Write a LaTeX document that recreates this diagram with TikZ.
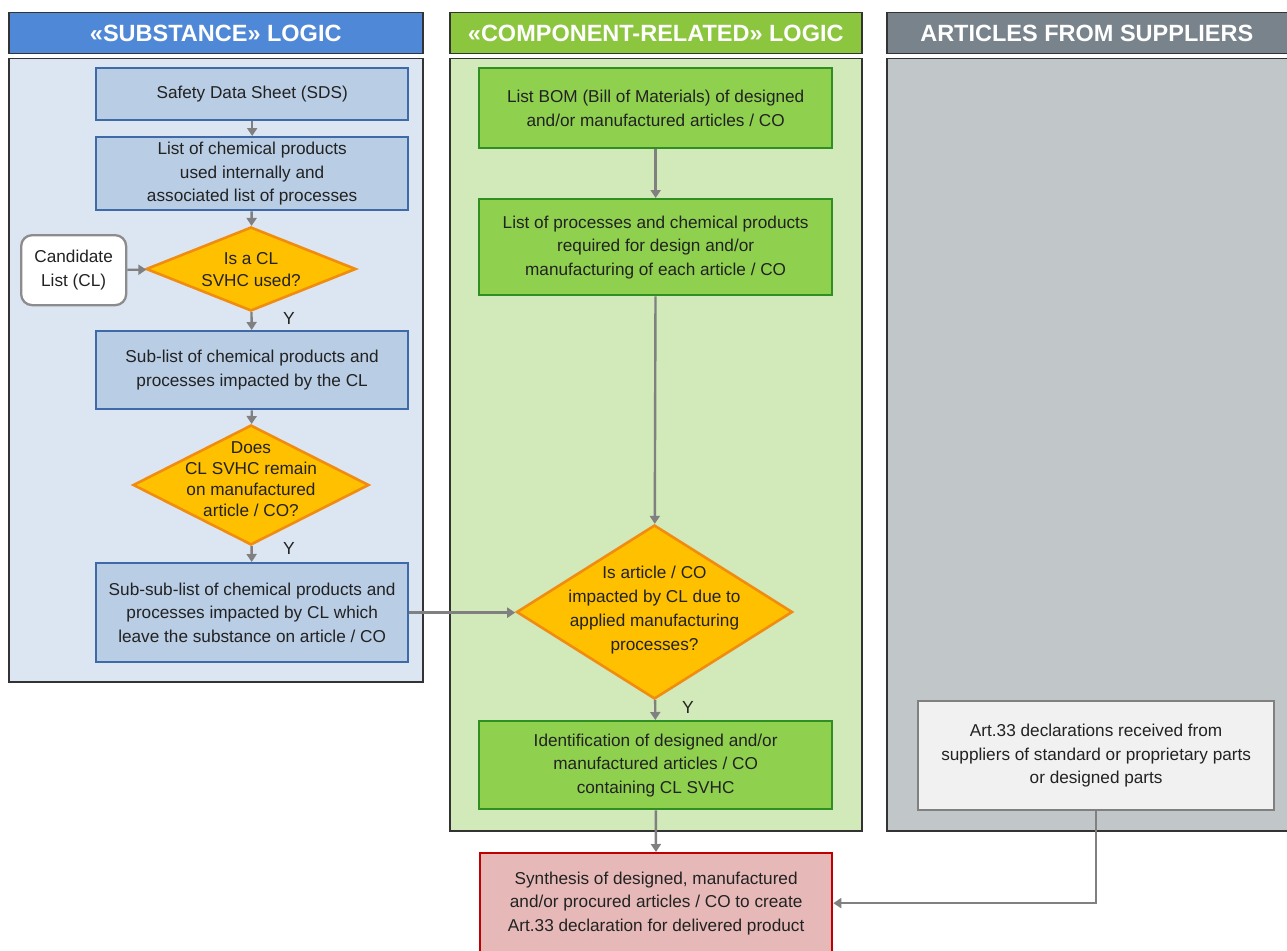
\documentclass[tikz,border=0pt]{standalone}
\usepackage{fontspec}
\setmainfont{Liberation Sans}
\usetikzlibrary{arrows.meta,shapes.geometric}
\definecolor{hblue}{HTML}{4F88D6}
\definecolor{pblue}{HTML}{DCE6F2}
\definecolor{bblue}{HTML}{B9CDE5}
\definecolor{dblue}{HTML}{3E6AA8}
\definecolor{hgreen}{HTML}{8CC63F}
\definecolor{pgreen}{HTML}{D2E9BA}
\definecolor{bgreen}{HTML}{8FD14F}
\definecolor{dgreen}{HTML}{2F8F23}
\definecolor{hgray}{HTML}{78838B}
\definecolor{pgray}{HTML}{C1C6C8}
\definecolor{dorange}{HTML}{F08C10}
\definecolor{forange}{HTML}{FFC000}
\definecolor{fred}{HTML}{E6B9B8}
\definecolor{dred}{HTML}{C00000}
\definecolor{lgray}{HTML}{F1F1F1}
\definecolor{arrgray}{HTML}{808080}
\definecolor{txt}{HTML}{222222}
\begin{document}
\begin{tikzpicture}[x=1pt,y=-1pt,
  hdr/.style={draw=black!80, line width=1.5pt, anchor=north west, inner sep=0pt,
    text=white, font=\fontsize{23.5}{26}\selectfont\bfseries},
  panel/.style={draw=black!80, line width=1.5pt, anchor=north west, inner sep=0pt},
  txtstyle/.style={text=txt, align=center, font=\fontsize{17.2}{23.5}\selectfont},
  bbox/.style={txtstyle, draw=dblue, fill=bblue, line width=2.3pt, anchor=north west, inner sep=0pt},
  gbox/.style={txtstyle, draw=dgreen, fill=bgreen, line width=2.3pt, anchor=north west, inner sep=0pt},
  dia/.style={diamond, draw=dorange, fill=forange, line width=2.6pt, inner sep=0pt},
  diatext/.style={txtstyle, inner sep=0pt},
  arr/.style={draw=arrgray, line width=2.4pt, -{Triangle[length=8pt,width=10pt]}},
  ylab/.style={text=txt, font=\fontsize{17.5}{20}\selectfont, inner sep=0pt}]
\useasboundingbox (0,0) rectangle (1287,950);

% headers
\node[hdr, fill=hblue, minimum width=414, minimum height=41] (h1) at (8,12) {«SUBSTANCE» LOGIC};
\node[hdr, fill=hgreen, minimum width=412, minimum height=41] (h2) at (449,12) {«COMPONENT-RELATED» LOGIC};
\node[hdr, fill=hgray, minimum width=410, minimum height=41] (h3) at (886,12) {\hspace*{-10pt}ARTICLES FROM SUPPLIERS};

% panels
\node[panel, fill=pblue, minimum width=414, minimum height=623] (p1) at (8,58) {};
\node[panel, fill=pgreen, minimum width=412, minimum height=772] (p2) at (449,58) {};
\node[panel, fill=pgray, minimum width=410, minimum height=772] (p3) at (886,58) {};

% substance column
\node[bbox, minimum width=312, minimum height=52] (sds) at (95,67) {Safety Data Sheet (SDS)};
\node[bbox, minimum width=312, minimum height=73] (chem) at (95,136) {List of chemical products\\used internally and\\associated list of processes};
\node[dia, minimum width=210, minimum height=84] (d1) at (251,269) {};
\node[diatext, font=\fontsize{17.2}{22}\selectfont] (d1t) at (251,270) {Is a CL\\SVHC used?};
\node[txtstyle, draw=black!45, fill=white, line width=2.3pt, rounded corners=11pt,
  minimum width=105, minimum height=70, inner sep=0pt, anchor=north west] (cand) at (20,234) {Candidate\\List (CL)};
\node[bbox, minimum width=312, minimum height=78] (sub) at (95,330) {Sub-list of chemical products and\\processes impacted by the CL};
\node[dia, minimum width=236, minimum height=120] (d2) at (251,485) {};
\node[diatext, font=\fontsize{17.2}{21}\selectfont] (d2t) at (251,479) {Does\\CL SVHC remain\\on manufactured\\article / CO?};
\node[bbox, minimum width=312, minimum height=99] (subsub) at (95,562) {Sub-sub-list of chemical products and\\processes impacted by CL which\\leave the substance on article / CO};

% component column
\node[gbox, minimum width=353, minimum height=80] (bom) at (478,67) {List BOM (Bill of Materials) of designed\\and/or manufactured articles / CO};
\node[gbox, minimum width=353, minimum height=96] (proc) at (478,198) {List of processes and chemical products\\required for design and/or\\manufacturing of each article / CO};
\node[dia, minimum width=276, minimum height=174] (d3) at (654.5,612) {};
\node[diatext, font=\fontsize{17.2}{24}\selectfont] (d3t) at (654.5,610) {Is article / CO\\impacted by CL due to\\applied manufacturing\\processes?};
\node[gbox, minimum width=353, minimum height=88] (ident) at (478,720) {Identification of designed and/or\\manufactured articles / CO\\containing CL SVHC};

% synthesis
\node[txtstyle, draw=dred, fill=fred, line width=2.3pt, anchor=north west, inner sep=0pt,
  minimum width=352, minimum height=100] (synth) at (479,852) {Synthesis of designed, manufactured\\and/or procured articles / CO to create\\Art.33 declaration for delivered product};

% suppliers
\node[txtstyle, draw=black!50, fill=lgray, line width=2.3pt, anchor=north west, inner sep=0pt,
  minimum width=356, minimum height=109] (art) at (917,700) {Art.33 declarations received from\\suppliers of standard or proprietary parts\\or designed parts};

% Y labels
\node[ylab] (y1) at (289,318) {Y};
\node[ylab] (y2) at (289,548) {Y};
\node[ylab] (y3) at (688,707) {Y};

% connectors
\draw[arr] (sds) -- (chem);
\draw[arr] (chem) -- (d1);
\draw[arr] (cand) -- (d1);
\draw[arr] (d1) -- (sub);
\draw[arr] (sub) -- (d2);
\draw[arr] (d2) -- (subsub);
\draw[arr] (subsub.east) -- (subsub.east -| d3.west);
\draw[arr] (bom) -- (proc);
\draw[arr] (proc) -- (d3);
\draw[arr] (d3) -- (ident);
\draw[arr] (ident) -- (synth);
\draw[arr] (art.south) |- (synth.east);
\end{tikzpicture}
\end{document}
